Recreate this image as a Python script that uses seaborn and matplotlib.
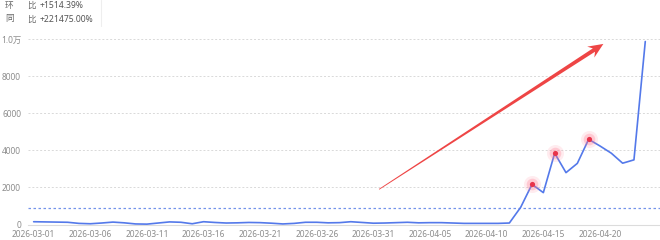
import numpy as np
import pandas as pd
import matplotlib
matplotlib.use("Agg")
import matplotlib.pyplot as plt
from matplotlib.patches import Polygon
import seaborn as sns

# ---- data ----
start_date = "2026-03-01"
values = [150, 140, 130, 120, 60, 40, 80, 130, 90, 30,
          20, 80, 140, 120, 40, 150, 110, 80, 90, 110,
          100, 70, 30, 60, 120, 120, 90, 100, 150, 110,
          70, 80, 100, 120, 90, 100, 100, 80, 60, 60,
          60, 60, 80, 930, 2170, 1720, 3850, 2800, 3300, 4600,
          4240, 3850, 3310, 3490, 9880]
highlight_idx = [44, 46, 49]
y_ticks = [0, 2000, 4000, 6000, 8000, 10000]
y_tick_labels = ["0", "2000", "4000", "6000", "8000", "1.0万"]
header_lines = [("环", "比", "+1514.39%"), ("同", "比", "+221475.00%")]
arrow_from = (30.5, 1900)
arrow_to = (50.3, 9750)

dates = pd.date_range(start_date, periods=len(values), freq="D")
df = pd.DataFrame({"idx": np.arange(len(values)), "value": values,
                   "date": dates.strftime("%Y-%m-%d")})

sns.set_style("white")
plt.rcParams["font.family"] = ["Noto Sans", "Noto Sans CJK SC", "DejaVu Sans"]

fig = plt.figure(figsize=(6.6, 2.4), dpi=100)
ax = fig.add_axes([28 / 660, (240 - 224.5) / 240, 1 - 28 / 660, (224.5 - 39.3) / 240])

blue = "#5479ea"
sns.lineplot(data=df, x="idx", y="value", ax=ax, color=blue, linewidth=1.2, zorder=4)

# average line
ax.axhline(np.mean(values), color="#7393ea", linestyle=(0, (2, 2)), linewidth=0.9, zorder=3)

# highlighted points with glow
hx = df["idx"].iloc[highlight_idx]
hy = df["value"].iloc[highlight_idx]
ax.scatter(hx, hy, s=150, color="#ff7a92", alpha=0.14, linewidths=0, zorder=5)
ax.scatter(hx, hy, s=70, color="#ff6f8a", alpha=0.28, linewidths=0, zorder=5)
ax.scatter(hx, hy, s=14, color="#e8334a", linewidths=0, zorder=6)

ax.set_xlim(-0.5, 55.3)
ax.set_ylim(0, 10000)

# tapered red arrow, built in display space from the two named endpoints
p0 = ax.transData.transform(arrow_from)
p1 = ax.transData.transform(arrow_to)
d = (p1 - p0) / np.linalg.norm(p1 - p0)
n = np.array([-d[1], d[0]])
head_len, head_w, shaft_w, tail_w = 15.0, 6.5, 2.0, 0.4
base = p1 - d * head_len
neck = p1 - d * head_len * 0.75
pts = [p0 + n * tail_w, neck + n * shaft_w, base + n * head_w, p1,
       base - n * head_w, neck - n * shaft_w, p0 - n * tail_w]
pts = ax.transData.inverted().transform(np.array(pts))
ax.add_patch(Polygon(pts, closed=True, facecolor="#ee4545", edgecolor="none", zorder=7))

ax.set_yticks(y_ticks)
ax.set_yticklabels(y_tick_labels)
ax.set_xticks(df["idx"][::5])
ax.set_xticklabels(df["date"][::5])
ax.tick_params(axis="both", length=0, labelsize=6.0, colors="#8c8c8c")
ax.tick_params(axis="y", pad=5)
ax.tick_params(axis="x", pad=4)
ax.set_xlabel("")
ax.set_ylabel("")
for yt in y_ticks[1:]:
    ax.axhline(yt, color="#d9d9d9", linestyle=(0, (2, 2)), linewidth=0.7, zorder=1)
for s in ["top", "right", "left"]:
    ax.spines[s].set_visible(False)
ax.spines["bottom"].set_color("#dcdcdc")
ax.spines["bottom"].set_linewidth(0.8)
ax.set_facecolor("white")

# header
for i, (a, b, c) in enumerate(header_lines):
    yy = 1 - (5.5 + 13.5 * i) / 240
    fig.text(5 / 660, yy, a, fontsize=6.2, color="#666666", va="center")
    fig.text(27 / 660, yy, b, fontsize=6.2, color="#666666", va="center")
    fig.text(40 / 660, yy, c, fontsize=6.2, color="#555555", va="center")
fig.add_artist(plt.Line2D([101 / 660, 101 / 660], [1, 1 - 26 / 240], color="#eeeeee", linewidth=0.8))

fig.savefig("out.png", dpi=100, facecolor="white")
